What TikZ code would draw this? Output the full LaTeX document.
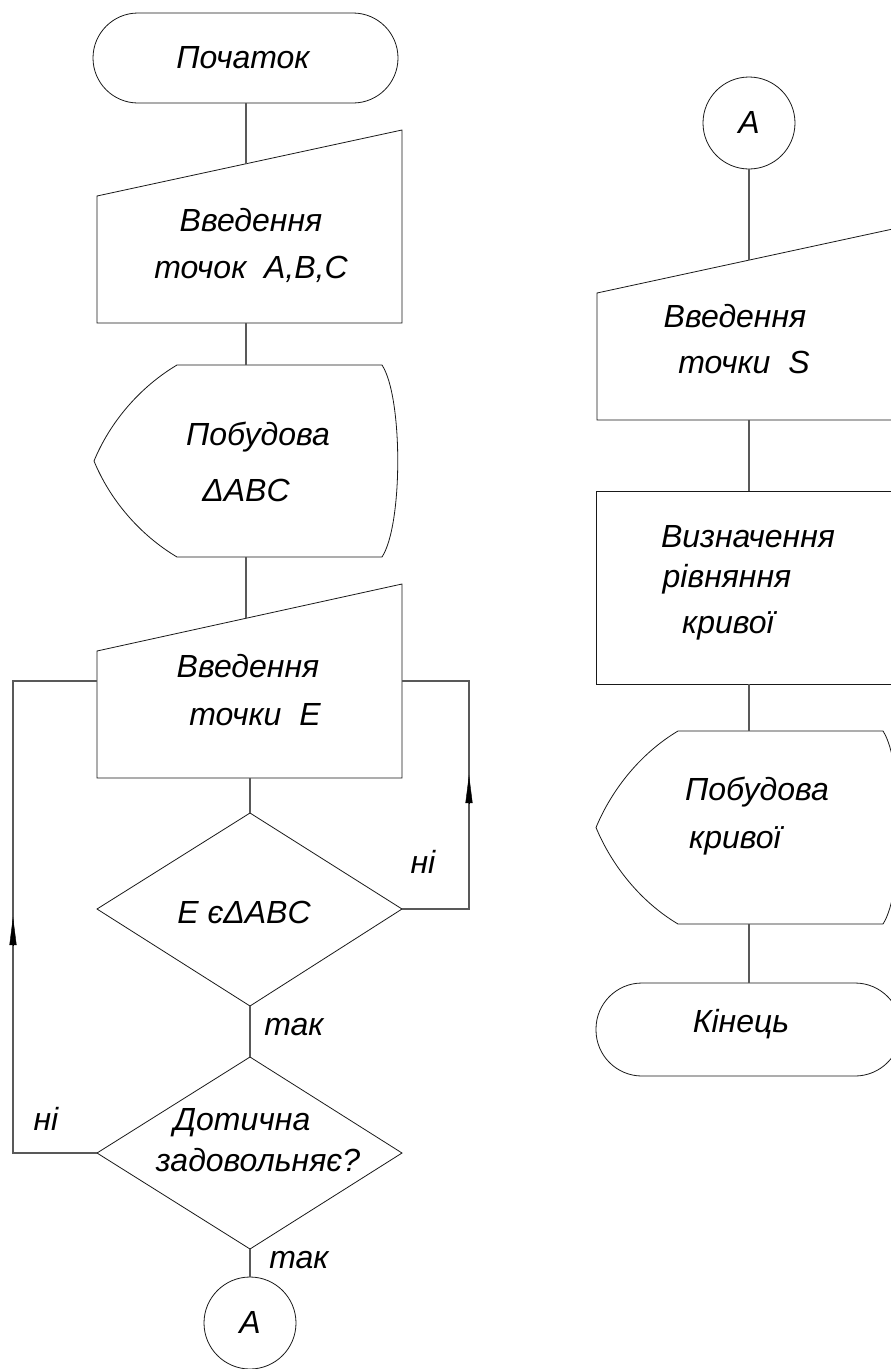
\documentclass[tikz,border=0pt]{standalone}
\usepackage{fontspec}
\setmainfont{Liberation Sans}
\usetikzlibrary{arrows.meta}
\begin{document}
\begin{tikzpicture}[x=1pt,y=-1pt,
  shp/.style={draw=black!90,line width=0.8pt},
  conn/.style={draw=black!65,line width=1.1pt},
  lbl/.style={font=\fontsize{32}{38}\selectfont\itshape,inner sep=0pt,anchor=base},
  uptip/.style={-{Triangle[length=28pt,width=7pt]},draw=black}
]
\clip (0,0) rectangle (891,1369);
\fill[white] (0,0) rectangle (891,1369);

% ---------- left column shapes ----------
\draw[shp,rounded corners=45pt] (93,13) rectangle (398,103);
\draw[shp] (97,196) -- (402,130) -- (402,323) -- (97,323) -- cycle;
\draw[shp] (177,365) -- (382,365) .. controls (403,397) and (403,525) .. (382,557)
  -- (177,557) .. controls (140,535) and (110,500) .. (94,461)
  .. controls (110,422) and (140,387) .. (177,365) -- cycle;
\draw[shp] (97,651) -- (402,584) -- (402,778) -- (97,778) -- cycle;
\draw[shp] (250,813) -- (402,909) -- (250,1006) -- (97,909) -- cycle;
\draw[shp] (250,1057) -- (402,1153) -- (250,1249) -- (97,1153) -- cycle;
\draw[shp] (250,1323) circle[radius=46];

% ---------- right column shapes ----------
\draw[shp] (749,123) circle[radius=46];
\draw[shp] (597,293) -- (902,227) -- (902,420) -- (597,420) -- cycle;
\draw[shp] (596,491) rectangle (902,684);
\draw[shp] (678,731) -- (883,731) .. controls (904,763) and (904,892) .. (883,924)
  -- (678,924) .. controls (641,902) and (612,866) .. (596,827.5)
  .. controls (612,789) and (641,753) .. (678,731) -- cycle;
\draw[shp,rounded corners=46pt] (596,983) rectangle (901,1076);

% ---------- connection points ----------
\coordinate (startB) at (246,103);
\coordinate (in1T) at (246,164);
\coordinate (in1B) at (246,323);
\coordinate (disp1T) at (246,365);
\coordinate (disp1B) at (246,557);
\coordinate (in2T) at (246,618);
\coordinate (in2B) at (250,778);
\coordinate (in2R) at (402,681);
\coordinate (in2L) at (97,681);
\coordinate (dec1T) at (250,813);
\coordinate (dec1R) at (402,909);
\coordinate (dec1B) at (250,1006);
\coordinate (dec2T) at (250,1057);
\coordinate (dec2L) at (97,1153);
\coordinate (dec2B) at (250,1249);
\coordinate (conAT) at (250,1277);
\coordinate (rloopB) at (469,909);
\coordinate (rloopT) at (469,681);
\coordinate (rarrB) at (469,803);
\coordinate (rarrT) at (469,775);
\coordinate (lloopB) at (13,1153);
\coordinate (lloopT) at (13,681);
\coordinate (larrB) at (13,945);
\coordinate (larrT) at (13,917);
\coordinate (conA2B) at (749,169);
\coordinate (in3T) at (749,260);
\coordinate (in3B) at (749,420);
\coordinate (procT) at (749,491);
\coordinate (procB) at (749,684);
\coordinate (disp2T) at (749,731);
\coordinate (disp2B) at (749,924);
\coordinate (endT) at (749,983);

% ---------- connectors ----------
\draw[conn] (startB) -- (in1T);
\draw[conn] (in1B) -- (disp1T);
\draw[conn] (disp1B) -- (in2T);
\draw[conn] (in2B) -- (dec1T);
\draw[conn] (dec1B) -- (dec2T);
\draw[conn] (dec2B) -- (conAT);
\draw[conn] (dec1R) -- (rloopB) -- (rloopT) -- (in2R);
\draw[conn] (dec2L) -- (lloopB) -- (lloopT) -- (in2L);
\draw[uptip] (rarrB) -- (rarrT);
\draw[uptip] (larrB) -- (larrT);
\draw[conn] (conA2B) -- (in3T);
\draw[conn] (in3B) -- (procT);
\draw[conn] (procB) -- (disp2T);
\draw[conn] (disp2B) -- (endT);

% ---------- texts ----------
\node[lbl] (tStart) at (243,68) {Початок};
\node[lbl] (tIn1a) at (251,231) {Введення};
\node[lbl] (tIn1b) at (251,278) {точок\ \ A,B,C};
\node[lbl] (tD1a) at (258,445) {Побудова};
\node[lbl] (tD1b) at (246,501) {ΔABC};
\node[lbl] (tIn2a) at (248,677) {Введення};
\node[lbl] (tIn2b) at (255,725) {точки\ \ E};
\node[lbl] (tDec1) at (244,923) {E єΔABC};
\node[lbl] (tNo1) at (423,873) {ні};
\node[lbl] (tYes1) at (294,1035) {так};
\node[lbl] (tDec2a) at (242,1130) {Дотична};
\node[lbl] (tDec2b) at (258,1171) {задовольняє?};
\node[lbl] (tNo2) at (46,1130) {ні};
\node[lbl] (tYes2) at (299,1268) {так};
\node[lbl] (tA1) at (250,1333) {A};
\node[lbl] (tA2) at (749,133) {A};
\node[lbl] (tIn3a) at (735,327) {Введення};
\node[lbl] (tIn3b) at (744,373) {точки\ \ S};
\node[lbl] (tPra) at (748,547) {Визначення};
\node[lbl] (tPrb) at (727,587) {рівняння};
\node[lbl] (tPrc) at (728,633) {кривої};
\node[lbl] (tD2a) at (757,800) {Побудова};
\node[lbl] (tD2b) at (735,848) {кривої};
\node[lbl] (tEnd) at (741,1032) {Кінець};
\end{tikzpicture}
\end{document}
